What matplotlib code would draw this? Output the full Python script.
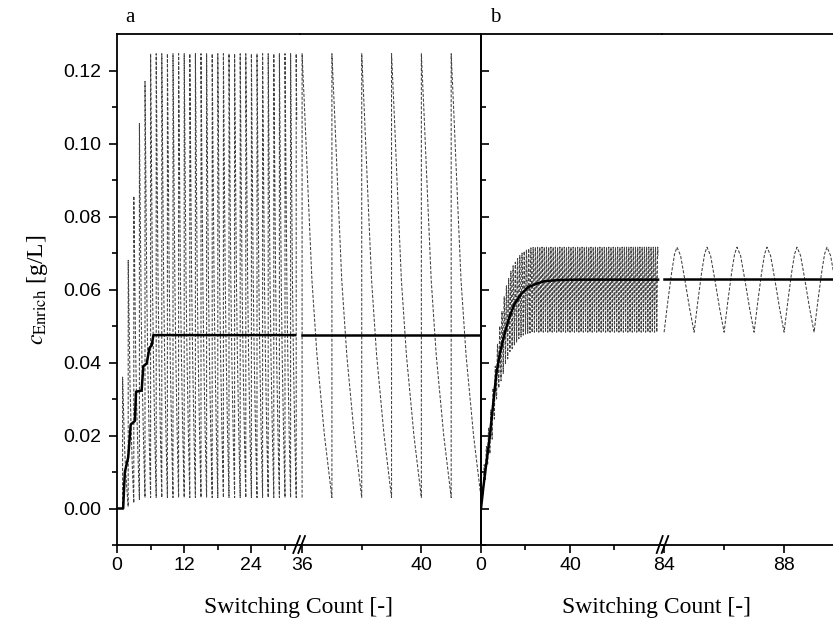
import numpy as np
import matplotlib
matplotlib.use('Agg')
import matplotlib.pyplot as plt
from matplotlib.lines import Line2D

plt.rcParams['font.family'] = ['Liberation Sans', 'DejaVu Sans']
plt.rcParams['mathtext.fontset'] = 'stix'

# ---------------- panel a : sawtooth, one switch per count ----------------
a_counts = list(range(1, 33))
a_peak = [0.036, 0.068, 0.0856, 0.1055, 0.117] + [0.1246] * 27
a_trough = [0.0, 0.0005, 0.0015, 0.0025] + [0.003] * 29      # level just before switch n
a_end = 32.1
a_counts2 = [36, 37, 38, 39, 40, 41]
a_peak2 = [0.1246] * 6
a_trough2 = [0.003] * 7
# decay inside one switching period (fraction of drop), read from the zoomed-out part
decay_t = [0.0, 0.1, 0.2, 0.33, 0.5, 0.75, 1.0]
decay_f = [1.0, 0.85, 0.69, 0.49, 0.32, 0.14, 0.0]

a_mean_x = [0, 1.1, 1.4, 2.0, 2.45, 3.2, 3.4, 4.4, 4.7, 5.3, 5.8, 6.2, 6.5, 31.8]
a_mean_y = [0, 0, 0.010, 0.014, 0.023, 0.024, 0.032, 0.0323, 0.039, 0.0397,
            0.044, 0.0447, 0.0475, 0.0475]
a_mean2_x = [36, 42]
a_mean2_y = [0.0475, 0.0475]

# ---------------- panel b : periodic oscillation ----------------
b_counts = list(range(0, 80))
b_trough = [0.0, 0.004, 0.008, 0.012, 0.015, 0.019, 0.0245, 0.030, 0.033, 0.035,
            0.037, 0.0395, 0.041, 0.043, 0.0438, 0.0448, 0.0456, 0.0465, 0.047,
            0.0475, 0.0478, 0.048, 0.0481, 0.0482] + [0.0483] * 57
b_peak = [0.006, 0.012, 0.017, 0.022, 0.027, 0.033, 0.039, 0.045, 0.050, 0.054,
          0.058, 0.061, 0.063, 0.065, 0.0665, 0.0675, 0.0685, 0.0693, 0.070,
          0.0705, 0.0709, 0.0712, 0.0714, 0.0715] + [0.0716] * 56
b_end = 79.6
b_counts2 = [84, 85, 86, 87, 88, 89]
b_peak2 = [0.0716] * 6
b_trough2 = [0.0483] * 7
rise_t = [0.0, 0.12, 0.25, 0.35, 0.43]
rise_f = [0.0, 0.35, 0.7, 0.92, 1.0]
fall_t = [0.55, 0.7, 0.85, 1.0]
fall_f = [0.9, 0.6, 0.28, 0.0]

b_mean_x = [0, 1, 2, 3.9, 6.9, 8.5, 10.6, 12.8, 15.1, 18, 21.1, 24.5, 28.6, 35, 43.6, 79.6]
b_mean_y = [0, 0.0055, 0.0105, 0.0195, 0.0369, 0.0425, 0.0479, 0.0525, 0.0561,
            0.0587, 0.0606, 0.0615, 0.0623, 0.0626, 0.0627, 0.0627]
b_mean2_x = [84, 90]
b_mean2_y = [0.0629, 0.0629]


def saw(counts, peaks, troughs, start=None):
    xs, ys = [], []
    if start is not None:
        xs.append(start); ys.append(troughs[0])
    for i, n in enumerate(counts):
        xs.append(n); ys.append(troughs[i])
        for t, f in zip(decay_t, decay_f):
            xs.append(n + t); ys.append(troughs[i + 1] + f * (peaks[i] - troughs[i + 1]))
    return np.array(xs), np.array(ys)


def wave(counts, peaks, troughs):
    xs, ys = [], []
    for i, n in enumerate(counts):
        for t, f in zip(rise_t, rise_f):
            xs.append(n + t); ys.append(troughs[i] + f * (peaks[i] - troughs[i]))
        for t, f in zip(fall_t, fall_f):
            xs.append(n + t); ys.append(troughs[i + 1] + f * (peaks[i] - troughs[i + 1]))
    return np.array(xs), np.array(ys)


W, H = 833, 622
fig = plt.figure(figsize=(W / 100, H / 100), dpi=100)


def box(x0, x1, y0=34, y1=545):
    return [x0 / W, 1 - y1 / H, (x1 - x0) / W, (y1 - y0) / H]


ax_a1 = fig.add_axes(box(117, 300))
ax_a2 = fig.add_axes(box(300, 481))
ax_b1 = fig.add_axes(box(481, 662))
ax_b2 = fig.add_axes(box(662, 833))

dot = dict(color='#404040', lw=0.75, ls=(0, (3, 1.6)))
solid = dict(color='black', lw=1.8)

x, y = saw(a_counts, a_peak, a_trough, start=0)
keep = x <= a_end
ax_a1.plot(x[keep], y[keep], **dot)
ax_a1.plot(a_mean_x, a_mean_y, **solid)
x, y = saw(a_counts2, a_peak2, a_trough2)
ax_a2.plot(x, y, **dot)
ax_a2.plot(a_mean2_x, a_mean2_y, **solid)

x, y = wave(b_counts, b_peak, b_trough)
keep = x <= b_end
ax_b1.plot(x[keep], y[keep], **dot)
ax_b1.plot(b_mean_x, b_mean_y, **solid)
x, y = wave(b_counts2, b_peak2, b_trough2)
ax_b2.plot(x, y, **dot)
ax_b2.plot(b_mean2_x, b_mean2_y, **solid)

ax_a1.set_xlim(0, 32.68)
ax_a2.set_xlim(35.93, 42.0)
ax_b1.set_xlim(0, 81.35)
ax_b2.set_xlim(83.93, 89.63)

ax_a1.set_xticks([0, 12, 24]); ax_a1.set_xticks([6, 18, 30], minor=True)
ax_a2.set_xticks([36, 40]); ax_a2.set_xticks([38], minor=True)
ax_b1.set_xticks([0, 40]); ax_b1.set_xticks([20, 60], minor=True)
ax_b2.set_xticks([84, 88]); ax_b2.set_xticks([86], minor=True)

yt = [0.0, 0.02, 0.04, 0.06, 0.08, 0.10, 0.12]
ytm = [-0.01, 0.01, 0.03, 0.05, 0.07, 0.09, 0.11]
for ax in (ax_a1, ax_a2, ax_b1, ax_b2):
    ax.set_ylim(-0.01, 0.13)
    for s in ax.spines.values():
        s.set_linewidth(1.3)
    ax.tick_params(axis='x', which='major', direction='out', length=6, width=1.2,
                   labelsize=14, pad=3)
    ax.tick_params(axis='x', which='minor', direction='out', length=3.5, width=1.2)
    ax.patch.set_alpha(0)

ax_a1.set_yticks(yt); ax_a1.set_yticks(ytm, minor=True)
ax_a1.set_yticklabels(['%.2f' % v for v in yt])
ax_a1.tick_params(axis='y', which='major', direction='out', length=6, width=1.2,
                  labelsize=14, pad=5)
ax_a1.tick_params(axis='y', which='minor', direction='out', length=3.5, width=1.2)
ax_a1.spines['right'].set_visible(False)

ax_a2.spines['left'].set_visible(False)
ax_a2.set_yticks([])

ax_b1.set_yticks(yt); ax_b1.set_yticks(ytm, minor=True)
ax_b1.tick_params(axis='y', which='major', direction='in', length=6, width=1.2,
                  labelleft=False)
ax_b1.tick_params(axis='y', which='minor', direction='in', length=3.5, width=1.2)
ax_b1.spines['right'].set_visible(False)

ax_b2.spines['left'].set_visible(False)
ax_b2.spines['right'].set_visible(False)
ax_b2.set_yticks([])

# axis breaks
for x1, x2 in [(293.3, 300), (298.3, 305), (656.7, 662.7), (661.7, 668.3)]:
    fig.add_artist(Line2D([x1 / W, x2 / W], [1 - 553 / H, 1 - 536 / H],
                          transform=fig.transFigure, color='black', lw=1.3))

serif = ['Liberation Serif', 'DejaVu Serif']
fig.text(299 / W, 1 - 607 / H, 'Switching Count [-]', ha='center', va='center',
         family=serif, fontsize=17)
fig.text(657 / W, 1 - 607 / H, 'Switching Count [-]', ha='center', va='center',
         family=serif, fontsize=17)
fig.text(38 / W, 1 - 290 / H, r'$c_{\mathrm{Enrich}}$ [g/L]', rotation=90,
         ha='center', va='center', family=serif, fontsize=17)
fig.text(130 / W, 1 - 18 / H, 'a', ha='center', va='center', family=serif, fontsize=15)
fig.text(495 / W, 1 - 17 / H, 'b', ha='center', va='center', family=serif, fontsize=15)

fig.savefig('out.png', dpi=100)
